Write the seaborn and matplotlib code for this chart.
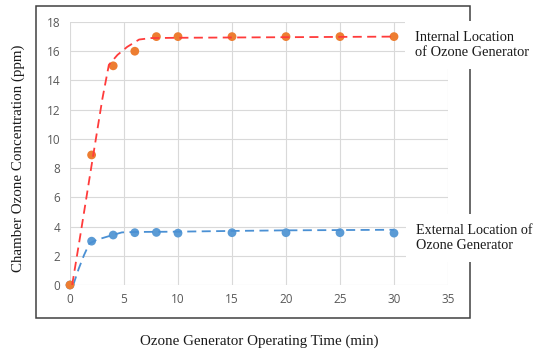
import matplotlib
matplotlib.use("Agg")
import matplotlib.pyplot as plt
import seaborn as sns
import pandas as pd
from matplotlib.patches import Rectangle

# ---- data ----
time_min = [0, 2, 4, 6, 8, 10, 15, 20, 25, 30]
internal_ppm = [0, 8.9, 15.0, 16.0, 17.0, 17.0, 17.0, 17.0, 17.0, 17.0]
external_ppm = [0, 3.0, 3.42, 3.58, 3.6, 3.55, 3.58, 3.58, 3.58, 3.55]

# dashed trend curves
internal_fit_x = [0.2, 1, 2, 3, 3.4, 3.6, 4.4, 5.3, 6.4, 7.5, 10, 15, 20, 25, 30]
internal_fit_y = [0, 3.6, 8.2, 12.75, 14.3, 15.07, 15.75, 16.3, 16.8, 16.9, 16.92, 16.94, 16.96, 16.98, 17.0]
external_fit_x = [0.3, 0.8, 1.3, 1.8, 2.5, 3.5, 4.8, 6, 8, 10, 15, 20, 25, 30]
external_fit_y = [0, 1.1, 2.05, 2.85, 3.1, 3.32, 3.6, 3.63, 3.64, 3.65, 3.7, 3.74, 3.76, 3.78]

x_ticks = [0, 5, 10, 15, 20, 25, 30, 35]
y_ticks = [0, 2, 4, 6, 8, 10, 12, 14, 16, 18]

x_label = "Ozone Generator Operating Time (min)"
y_label = "Chamber Ozone Concentration (ppm)"
internal_label = "Internal Location\nof Ozone Generator"
external_label = "External Location of\nOzone Generator"

# ---- styling ----
sns.set_theme(style="whitegrid", rc={"grid.color": "#D9D9D9", "grid.linewidth": 0.8})
plt.rcParams["font.family"] = ["Open Sans", "DejaVu Sans"]

W, H = 538, 352
fig = plt.figure(figsize=(W / 100, H / 100), dpi=100)
ax = fig.add_axes([70 / W, 1 - 285 / H, (448 - 70) / W, (285 - 22) / H])

ORANGE = "#ED7D31"
BLUE = "#5B9BD5"
RED = "#FF3B3B"

pts = pd.DataFrame({"t": time_min, "int": internal_ppm, "ext": external_ppm})
fit_i = pd.DataFrame({"x": internal_fit_x, "y": internal_fit_y})
fit_e = pd.DataFrame({"x": external_fit_x, "y": external_fit_y})

sns.scatterplot(data=pts, x="t", y="ext", ax=ax, color=BLUE, s=40,
                edgecolor="none", zorder=3, clip_on=False)
sns.lineplot(data=fit_e, x="x", y="y", ax=ax, color="#4A90D4", lw=1.3,
             zorder=4, sort=False).lines[-1].set_dashes((5, 3))
sns.scatterplot(data=pts, x="t", y="int", ax=ax, color=ORANGE, s=40,
                edgecolor="none", zorder=5, clip_on=False)
sns.lineplot(data=fit_i, x="x", y="y", ax=ax, color=RED, lw=1.3,
             zorder=6, sort=False).lines[-1].set_dashes((5, 3))

ax.set_xlim(0, 35)
ax.set_ylim(0, 18)
ax.set_xticks(x_ticks)
ax.set_yticks(y_ticks)
ax.tick_params(axis="both", length=0, labelsize=8.5, labelcolor="#595959")
ax.tick_params(axis="x", pad=6)
ax.tick_params(axis="y", pad=7)
ax.set_xlabel("")
ax.set_ylabel("")
for s in ax.spines.values():
    s.set_visible(False)
ax.grid(True, color="#D9D9D9", lw=0.8)

serif = ["Liberation Serif", "DejaVu Serif"]
# outer chart box
fig.patches.append(Rectangle((36 / W, 1 - 318 / H), (470 - 36) / W, (318 - 6) / H,
                             transform=fig.transFigure, fill=False,
                             edgecolor="#404040", lw=1.1, zorder=1))

fig.text(259 / W, 1 - 341 / H, x_label, ha="center", va="center",
         family=serif, fontsize=10.8, color="#1a1a1a")
fig.text(18 / W, 1 - 158 / H, y_label, ha="center", va="center", rotation=90,
         family=serif, fontsize=10.8, color="#1a1a1a")

bb = dict(facecolor="white", edgecolor="none", pad=7)
fig.text(415 / W, 1 - 45 / H, internal_label, ha="left", va="center",
         family=serif, fontsize=10.4, color="#1a1a1a", linespacing=1.25,
         bbox=bb, zorder=10)
fig.text(416 / W, 1 - 238 / H, external_label, ha="left", va="center",
         family=serif, fontsize=10.2, color="#1a1a1a", linespacing=1.25,
         bbox=bb, zorder=10)

fig.savefig("out.png", dpi=100, facecolor="white")
